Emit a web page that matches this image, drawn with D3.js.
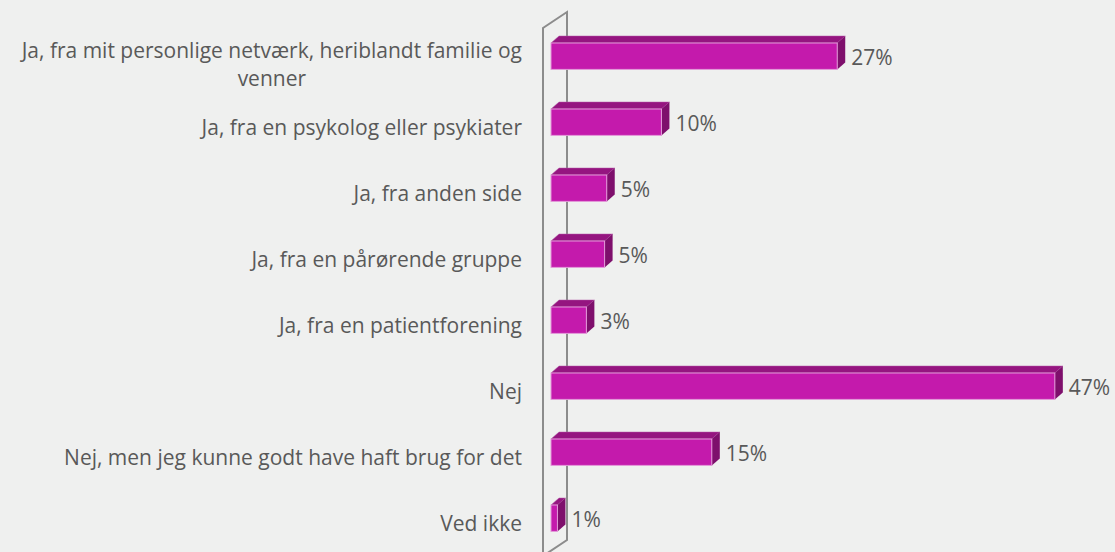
<!DOCTYPE html>
<html>
<head>
<meta charset="utf-8">
<script src="https://cdn.jsdelivr.net/npm/d3@7"></script>
<style>
  body { margin: 0; background: #eff0ef; }
  svg { display: block; }
</style>
</head>
<body>
<div id="container"></div>
<script>
// data
var categories = [
  "Ja, fra mit personlige netværk, heriblandt familie og venner",
  "Ja, fra en psykolog eller psykiater",
  "Ja, fra anden side",
  "Ja, fra en pårørende gruppe",
  "Ja, fra en patientforening",
  "Nej",
  "Nej, men jeg kunne godt have haft brug for det",
  "Ved ikke"
];
var values = [26.7, 10.3, 5.2, 5.0, 3.3, 47.0, 15.0, 0.6];
var valueLabels = ["27%", "10%", "5%", "5%", "3%", "47%", "15%", "1%"];

// width and height
var width = 1115;
var height = 552;
var font = "'Open Sans', sans-serif";
var fontSize = "21px";

var svg = d3.select("#container")
            .append("svg")
            .attr("width", width)
            .attr("height", height);

svg.append("rect")
   .attr("width", width)
   .attr("height", height)
   .attr("fill", "#eff0ef");

// scales
var x = d3.scaleLinear()
          .domain([0, 50])
          .range([551, 551 + 536]);

var y = d3.scaleBand()
          .domain(categories)
          .range([23.2, 551.2])
          .paddingInner(0.6)
          .paddingOuter(0.3);

// depth of the 3d bars and the wall
var dx = 8, dy = -7;
var wdx = 24, wdy = -16;

// side wall
var wallX = 543;
svg.append("path")
   .attr("d", "M" + wallX + "," + (height + 10) +
              "L" + wallX + ",28" +
              "L" + (wallX + wdx) + "," + (28 + wdy) +
              "L" + (wallX + wdx) + ",540" +
              "L" + wallX + "," + (540 - wdy))
   .attr("fill", "none")
   .attr("stroke", "#8c8c8c")
   .attr("stroke-width", 2);

var bars = svg.selectAll(".bar")
              .data(values)
              .enter().append("g")
              .attr("class", "bar");

// top face
bars.append("path")
    .attr("d", function(d, i) {
      var x0 = x(0), x1 = x(d), t = y(categories[i]);
      return "M" + x0 + "," + t + "L" + (x0 + dx) + "," + (t + dy) +
             "L" + (x1 + dx) + "," + (t + dy) + "L" + x1 + "," + t + "Z";
    })
    .attr("fill", "#951580")
    .attr("stroke", "#b35aa6")
    .attr("stroke-width", 0.5);

// side face
bars.append("path")
    .attr("d", function(d, i) {
      var x1 = x(d), t = y(categories[i]), b = t + y.bandwidth();
      return "M" + x1 + "," + t + "L" + (x1 + dx) + "," + (t + dy) +
             "L" + (x1 + dx) + "," + (b + dy) + "L" + x1 + "," + b + "Z";
    })
    .attr("fill", "#7e0f6c");

// front face
bars.append("rect")
    .attr("x", x(0))
    .attr("y", function(d, i) { return y(categories[i]); })
    .attr("width", function(d) { return x(d) - x(0); })
    .attr("height", y.bandwidth())
    .attr("fill", "#c41aac")
    .attr("stroke", "#e39ad9")
    .attr("stroke-width", 1);

// value labels
svg.selectAll(".value")
   .data(values)
   .enter().append("text")
   .attr("class", "value")
   .attr("x", function(d) { return x(d) + dx + 6; })
   .attr("y", function(d, i) { return y(categories[i]) + y.bandwidth() / 2 + 9; })
   .style("font-family", font)
   .style("font-size", fontSize)
   .style("fill", "#595959")
   .text(function(d, i) { return valueLabels[i]; });

// category labels
var labelX = 522;
categories.forEach(function(c, i) {
  var mid = y(c) + y.bandwidth() / 2;
  if (i === 0) {
    var l1 = svg.append("text")
                .attr("x", labelX)
                .attr("y", mid + 1.5)
                .attr("text-anchor", "end")
                .style("font-family", font)
                .style("font-size", fontSize)
                .style("fill", "#595959")
                .text("Ja, fra mit personlige netværk, heriblandt familie og");
    var w = l1.node().getComputedTextLength();
    svg.append("text")
       .attr("x", labelX - w / 2)
       .attr("y", mid + 29.5)
       .attr("text-anchor", "middle")
       .style("font-family", font)
       .style("font-size", fontSize)
       .style("fill", "#595959")
       .text("venner");
  } else {
    svg.append("text")
       .attr("x", labelX)
       .attr("y", mid + 12.5)
       .attr("text-anchor", "end")
       .style("font-family", font)
       .style("font-size", fontSize)
       .style("fill", "#595959")
       .text(c);
  }
});
</script>
</body>
</html>
